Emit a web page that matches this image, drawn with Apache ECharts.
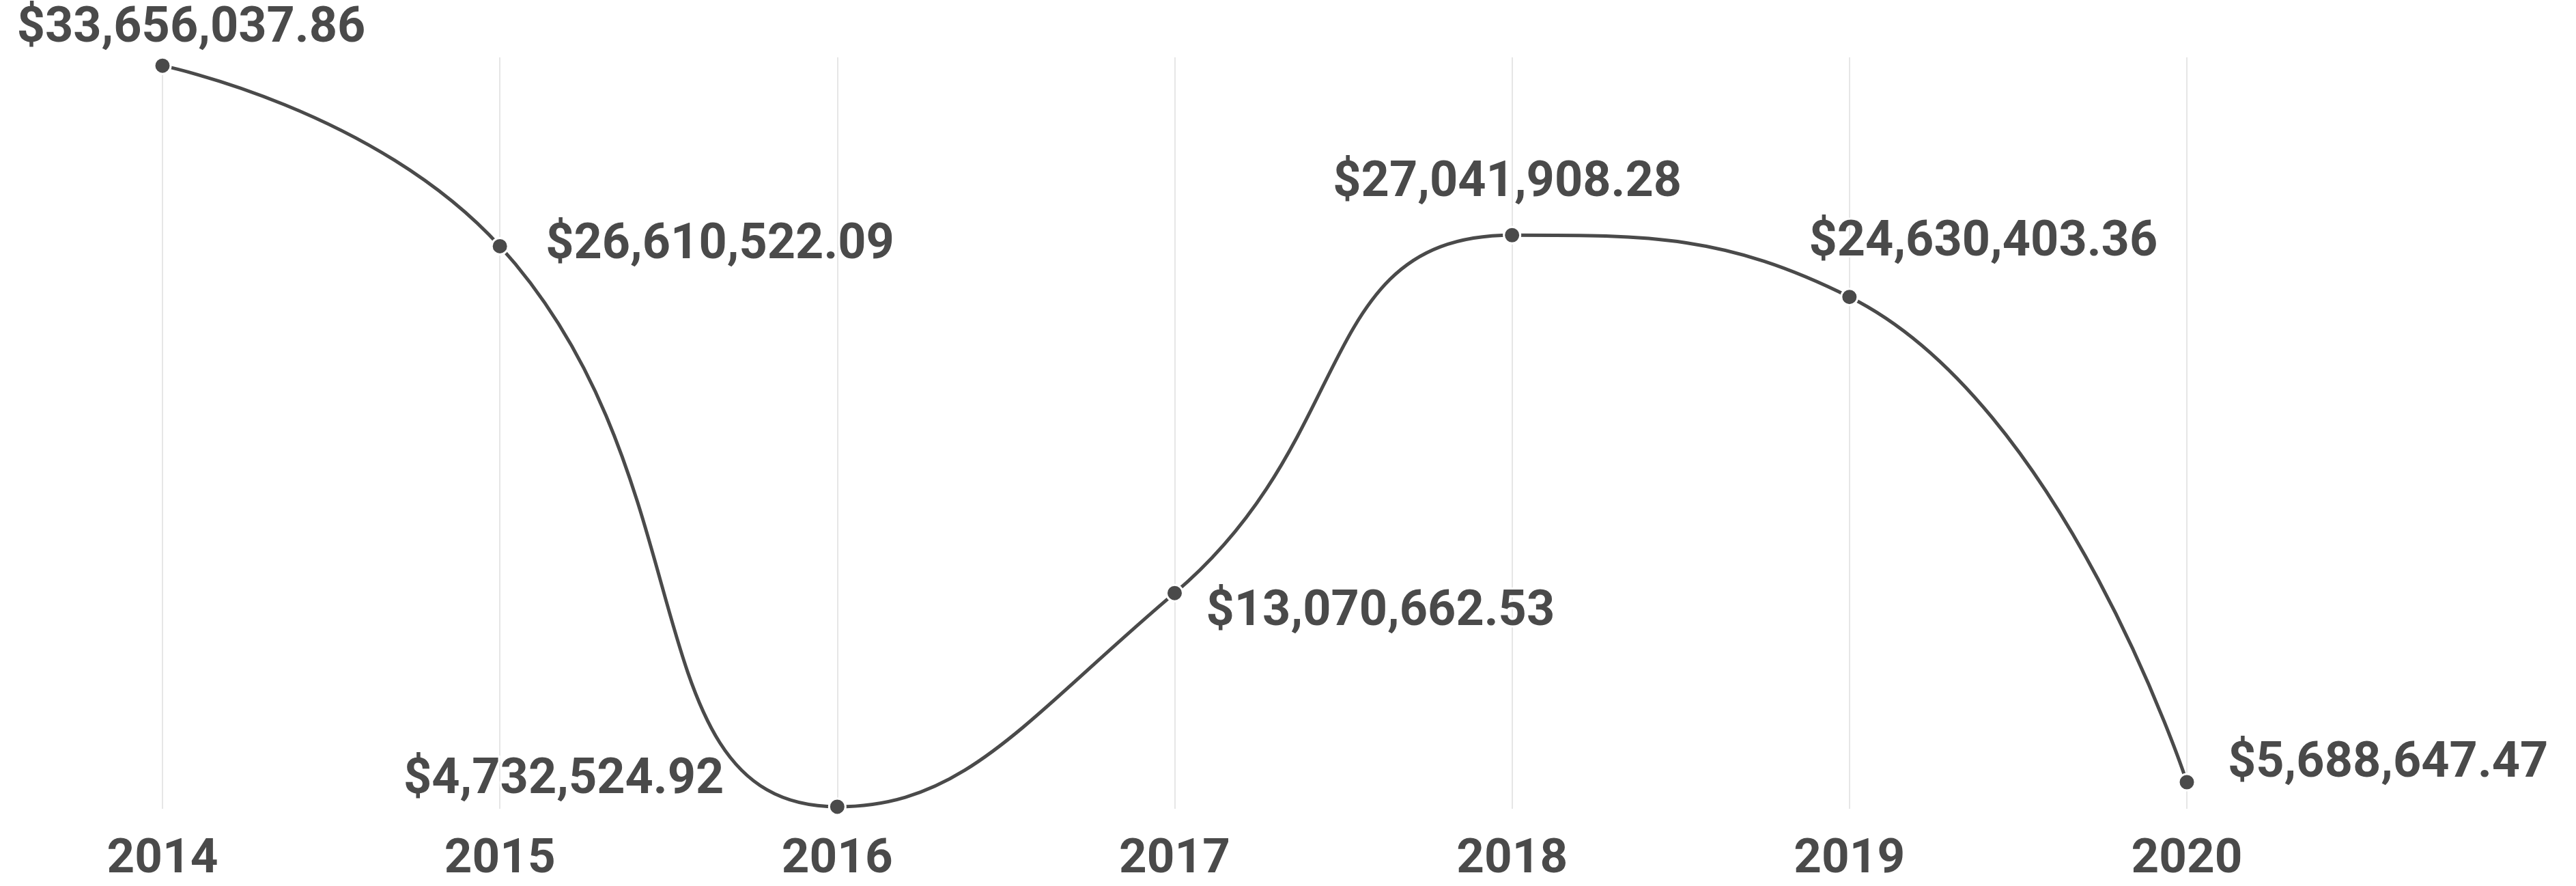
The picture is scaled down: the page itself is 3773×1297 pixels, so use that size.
<!DOCTYPE html>
<html>
<head>
<meta charset="utf-8">
<script src="https://cdn.jsdelivr.net/npm/echarts@6/dist/echarts.min.js"></script>
<style>
html,body{margin:0;padding:0;background:#fff;}
#chart{width:3773px;height:1297px;}
</style>
</head>
<body>
<div id="chart"></div>
<script>
const years = ['2014', '2015', '2016', '2017', '2018', '2019', '2020'];
const amounts = [33656037.86, 26610522.09, 4732524.92, 13070662.53, 27041908.28, 24630403.36, 5688647.47];

const fmt = v => '$' + v.toLocaleString('en-US', {minimumFractionDigits: 2, maximumFractionDigits: 2});

// label placement per point (style, not data)
const place = [
  {align: 'center', offset: [42, -53]},
  {align: 'left', offset: [67, 0]},
  {align: 'right', offset: [-166, -38]},
  {align: 'left', offset: [46, 29]},
  {align: 'center', offset: [-7, -75]},
  {align: 'center', offset: [196, -79]},
  {align: 'left', offset: [60, -26]}
];

const seriesData = amounts.map((v, i) => ({
  value: v,
  label: {position: 'inside', align: place[i].align, verticalAlign: 'middle', offset: place[i].offset}
}));

const chart = echarts.init(document.getElementById('chart'));
chart.setOption({
  animation: false,
  grid: {left: 238, right: 570, top: 84, bottom: 113},
  xAxis: {
    type: 'category',
    data: years,
    boundaryGap: false,
    axisLine: {show: false},
    axisTick: {show: false},
    axisLabel: {color: '#4a4a4a', fontFamily: 'Roboto', fontWeight: 'bold', fontSize: 71, margin: 40},
    splitLine: {show: true, lineStyle: {color: '#e6e6e6', width: 2}}
  },
  yAxis: {
    type: 'value',
    min: 4650000,
    max: 33980000,
    show: false,
    splitLine: {show: false}
  },
  series: [{
    type: 'line',
    data: seriesData,
    smooth: 0.5,
    symbol: 'circle',
    symbolSize: 24,
    lineStyle: {color: '#4a4a4a', width: 5},
    itemStyle: {color: '#4a4a4a', borderColor: '#fff', borderWidth: 3},
    label: {
      show: true,
      formatter: p => fmt(p.value),
      color: '#4a4a4a',
      fontFamily: 'Roboto',
      fontWeight: 'bold',
      fontSize: 72,
      textBorderColor: '#fff',
      textBorderWidth: 6
    },
    z: 3
  }]
});
</script>
</body>
</html>
